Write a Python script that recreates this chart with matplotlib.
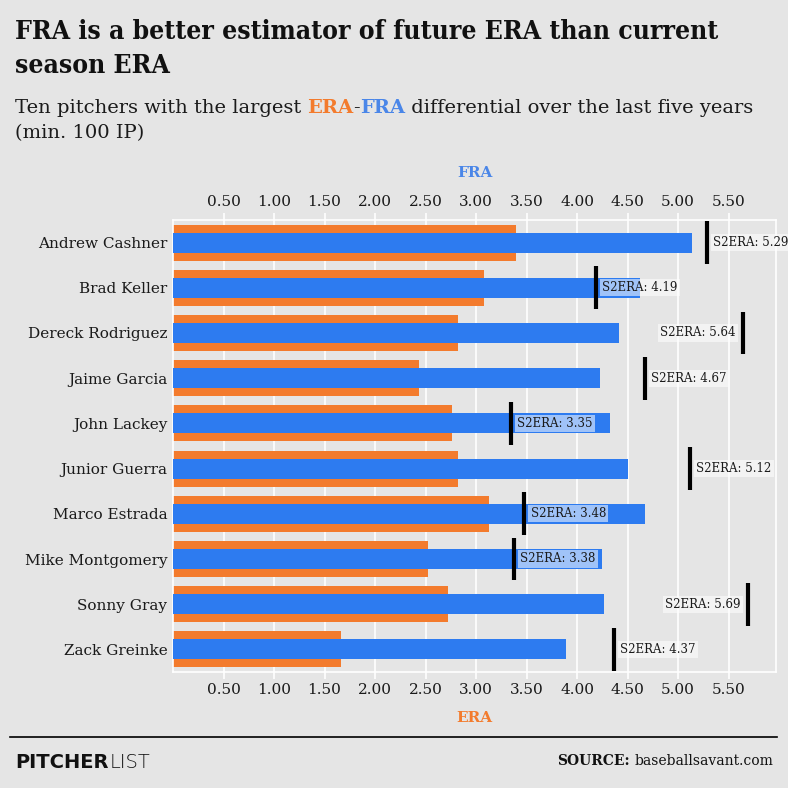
import numpy as np
import matplotlib
matplotlib.use("Agg")
import matplotlib.pyplot as plt

# data
pitchers = ["Andrew Cashner", "Brad Keller", "Dereck Rodriguez", "Jaime Garcia",
            "John Lackey", "Junior Guerra", "Marco Estrada", "Mike Montgomery",
            "Sonny Gray", "Zack Greinke"]
era = [3.40, 3.08, 2.82, 2.44, 2.76, 2.82, 3.13, 2.52, 2.72, 1.66]
fra = [5.14, 4.62, 4.42, 4.23, 4.33, 4.50, 4.67, 4.25, 4.27, 3.89]
s2era = [5.29, 4.19, 5.64, 4.67, 3.35, 5.12, 3.48, 3.38, 5.69, 4.37]
tick_vals = [0.5, 1.0, 1.5, 2.0, 2.5, 3.0, 3.5, 4.0, 4.5, 5.0, 5.5]

BG = "#e5e5e5"
ORANGE = "#f37b2d"
BLUE = "#2d7bf0"
FRA_LABEL = "#4a86e8"
INK = "#1a1a1a"

plt.rcParams["font.family"] = "DejaVu Serif"

fig = plt.figure(figsize=(7.88, 7.88), dpi=100, facecolor=BG)
W, H = 788, 788
ax = fig.add_axes([173 / W, 1 - 672 / H, (776 - 173) / W, (672 - 220) / H])
ax.set_facecolor(BG)

y = np.arange(len(pitchers))
ax.barh(y, era, height=0.8, color=ORANGE, zorder=2)
ax.barh(y, fra, height=0.44, color=BLUE, zorder=3)
ax.vlines(s2era, y - 0.475, y + 0.475, color="black", linewidth=3, zorder=4)

# S2ERA labels: right of the marker, or left when close to the edge
for yi, v in zip(y, s2era):
    txt = f"S2ERA: {v:.2f}"
    right_side = v > 5.5
    ax.text(v - 0.07 if right_side else v + 0.06, yi, txt,
            ha="right" if right_side else "left", va="center",
            fontsize=8.5, color=INK, zorder=5, clip_on=False,
            bbox=dict(facecolor="white", edgecolor="none", alpha=0.55, pad=1.5))

ax.set_xlim(0, 5.97)
ax.set_ylim(len(pitchers) - 0.5, -0.5)
ax.set_yticks(y)
ax.set_yticklabels(pitchers, fontsize=11, color=INK)
ax.set_xticks(tick_vals)
ax.set_xticklabels([f"{t:.2f}" for t in tick_vals], fontsize=11, color=INK)
ax.tick_params(axis="x", which="both", top=True, labeltop=True, bottom=True,
               labelbottom=True, color="white", length=5, width=1.2, pad=3)
ax.tick_params(axis="y", length=0, pad=4)
ax.grid(axis="x", color="white", linewidth=1.2, zorder=0)
ax.set_axisbelow(True)
for s in ax.spines.values():
    s.set_color("white")
    s.set_linewidth(1.2)

ax.set_xlabel("ERA", color=ORANGE, fontweight="bold", fontsize=11, labelpad=10)
top = ax.secondary_xaxis("top")
top.set_xticks([])
top.spines["top"].set_visible(False)
top.set_xlabel("FRA", color=FRA_LABEL, fontweight="bold", fontsize=11, labelpad=31)

# title and subtitle
fig.text(15 / W, 1 - 19 / H, "FRA is a better estimator of future ERA than current\nseason ERA",
         fontsize=19, fontweight="bold", fontstretch="condensed", va="top", ha="left",
         linespacing=1.45, color="#111111")

renderer = fig.canvas.get_renderer()
pieces = [("Ten pitchers with the largest ", INK, "normal"),
          ("ERA", ORANGE, "bold"), ("-", INK, "normal"),
          ("FRA", FRA_LABEL, "bold"),
          (" differential over the last five years", INK, "normal")]
x0 = 15
for s, c, w in pieces:
    t = fig.text(x0 / W, 1 - 113 / H, s, fontsize=14, color=c, fontweight=w,
                 ha="left", va="baseline")
    x0 += t.get_window_extent(renderer).width
fig.text(15 / W, 1 - 138 / H, "(min. 100 IP)", fontsize=14, color=INK,
         ha="left", va="baseline")

# footer
fig.add_artist(plt.Line2D([10 / W, 777 / W], [1 - 737 / H, 1 - 737 / H],
                          color="black", linewidth=1.2))
t = fig.text(15 / W, 1 - 768 / H, "PITCHER", fontsize=14, fontweight="bold",
             family="DejaVu Sans", ha="left", va="baseline", color="#111111")
bb = t.get_window_extent(renderer)
fig.text((16 + bb.width) / W, 1 - 768 / H, "LIST", fontsize=14, fontweight="light",
         family="DejaVu Sans", ha="left", va="baseline", color="#111111")
t2 = fig.text(773 / W, 1 - 765 / H, "baseballsavant.com", fontsize=10,
              ha="right", va="baseline", color="#111111")
bb2 = t2.get_window_extent(renderer)
fig.text((773 - bb2.width - 4) / W, 1 - 765 / H, "SOURCE:", fontsize=10,
         fontweight="bold", ha="right", va="baseline", color="#111111")

fig.savefig("out.png", dpi=100, facecolor=BG)
